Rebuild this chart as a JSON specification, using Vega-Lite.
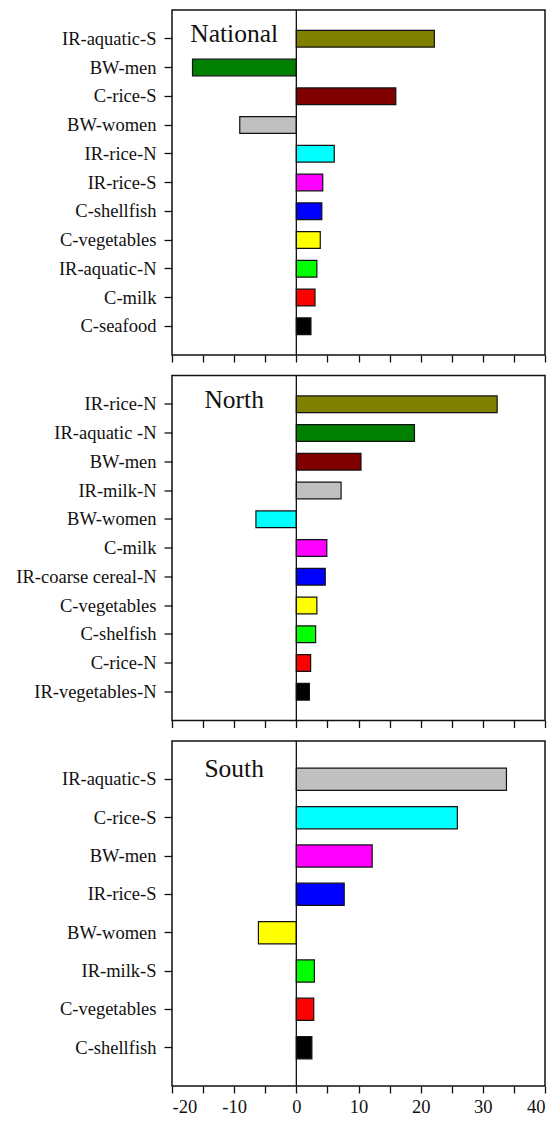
{
  "$schema": "https://vega.github.io/schema/vega-lite/v6.json",
  "padding": {"left": 0, "top": 8, "right": 0, "bottom": 0},
  "spacing": 9.5,
  "config": {
    "font": "Liberation Serif",
    "view": {"stroke": "#111", "strokeWidth": 1.5},
    "axis": {"domain": false, "grid": false, "tickColor": "#111", "tickWidth": 1.3, "labelColor": "#111", "labelFont": "Liberation Serif", "labelFontSize": 18.5, "title": null},
    "axisY": {"tickSize": 8, "labelPadding": 8, "minExtent": 171, "maxExtent": 171},
    "axisX": {"tickSize": 7, "labelPadding": 4, "values": [-20, -10, 0, 10, 20, 30, 40], "labelExpr": "'' + datum.value"},
    "bar": {"stroke": "#111", "strokeWidth": 1.2},
    "scale": {"bandPaddingInner": 0.42, "bandPaddingOuter": 0.71}
  },
  "datasets": {
    "national": [
      {"item": "IR-aquatic-S", "value": 22.2, "pos": 11},
      {"item": "BW-men", "value": -16.7, "pos": 10},
      {"item": "C-rice-S", "value": 16.0, "pos": 9},
      {"item": "BW-women", "value": -9.1, "pos": 8},
      {"item": "IR-rice-N", "value": 6.1, "pos": 7},
      {"item": "IR-rice-S", "value": 4.25, "pos": 6},
      {"item": "C-shellfish", "value": 4.1, "pos": 5},
      {"item": "C-vegetables", "value": 3.85, "pos": 4},
      {"item": "IR-aquatic-N", "value": 3.3, "pos": 3},
      {"item": "C-milk", "value": 3.0, "pos": 2},
      {"item": "C-seafood", "value": 2.35, "pos": 1}
    ],
    "north": [
      {"item": "IR-rice-N", "value": 32.3, "pos": 11},
      {"item": "IR-aquatic -N", "value": 19.0, "pos": 10},
      {"item": "BW-men", "value": 10.4, "pos": 9},
      {"item": "IR-milk-N", "value": 7.2, "pos": 8},
      {"item": "BW-women", "value": -6.5, "pos": 7},
      {"item": "C-milk", "value": 4.9, "pos": 6},
      {"item": "IR-coarse cereal-N", "value": 4.65, "pos": 5},
      {"item": "C-vegetables", "value": 3.3, "pos": 4},
      {"item": "C-shelfish", "value": 3.1, "pos": 3},
      {"item": "C-rice-N", "value": 2.3, "pos": 2},
      {"item": "IR-vegetables-N", "value": 2.1, "pos": 1}
    ],
    "south": [
      {"item": "IR-aquatic-S", "value": 33.8, "pos": 8},
      {"item": "C-rice-S", "value": 25.9, "pos": 7},
      {"item": "BW-men", "value": 12.2, "pos": 6},
      {"item": "IR-rice-S", "value": 7.7, "pos": 5},
      {"item": "BW-women", "value": -6.1, "pos": 4},
      {"item": "IR-milk-S", "value": 2.9, "pos": 3},
      {"item": "C-vegetables", "value": 2.8, "pos": 2},
      {"item": "C-shellfish", "value": 2.5, "pos": 1}
    ]
  },
  "vconcat": [
    {
      "width": 373, "height": 345,
      "layer": [
        {
          "data": {"name": "national"},
          "mark": "bar",
          "encoding": {
            "y": {"field": "item", "type": "nominal", "sort": ["IR-aquatic-S", "BW-men", "C-rice-S", "BW-women", "IR-rice-N", "IR-rice-S", "C-shellfish", "C-vegetables", "IR-aquatic-N", "C-milk", "C-seafood"]},
            "x": {"field": "value", "type": "quantitative", "scale": {"domain": [-20, 40], "nice": false}, "axis": {"labels": false, "minExtent": 7, "maxExtent": 7}},
            "color": {"field": "pos", "type": "ordinal", "scale": {"domain": [11, 10, 9, 8, 7, 6, 5, 4, 3, 2, 1], "range": ["#808000", "#008000", "#800000", "#C0C0C0", "#00FFFF", "#FF00FF", "#0000FF", "#FFFF00", "#00FF00", "#FF0000", "#000000"]}, "legend": null}
          }
        },
        {
          "data": {"values": [{}]},
          "mark": {"type": "rule", "color": "#111", "strokeWidth": 1.3},
          "encoding": {"x": {"datum": 0}}
        },
        {
          "data": {"values": [{"label": "National"}]},
          "mark": {"type": "text", "fontSize": 25.5, "align": "center", "baseline": "alphabetic", "dy": 3, "color": "#111"},
          "encoding": {"x": {"datum": -10}, "y": {"datum": "IR-aquatic-S"}, "text": {"field": "label"}}
        }
      ]
    },
    {
      "width": 373, "height": 345,
      "layer": [
        {
          "data": {"name": "north"},
          "mark": "bar",
          "encoding": {
            "y": {"field": "item", "type": "nominal", "sort": ["IR-rice-N", "IR-aquatic -N", "BW-men", "IR-milk-N", "BW-women", "C-milk", "IR-coarse cereal-N", "C-vegetables", "C-shelfish", "C-rice-N", "IR-vegetables-N"]},
            "x": {"field": "value", "type": "quantitative", "scale": {"domain": [-20, 40], "nice": false}, "axis": {"labels": false, "minExtent": 7, "maxExtent": 7}},
            "color": {"field": "pos", "type": "ordinal", "scale": {"domain": [11, 10, 9, 8, 7, 6, 5, 4, 3, 2, 1], "range": ["#808000", "#008000", "#800000", "#C0C0C0", "#00FFFF", "#FF00FF", "#0000FF", "#FFFF00", "#00FF00", "#FF0000", "#000000"]}, "legend": null}
          }
        },
        {
          "data": {"values": [{}]},
          "mark": {"type": "rule", "color": "#111", "strokeWidth": 1.3},
          "encoding": {"x": {"datum": 0}}
        },
        {
          "data": {"values": [{"label": "North"}]},
          "mark": {"type": "text", "fontSize": 25.5, "align": "center", "baseline": "alphabetic", "dy": 4, "color": "#111"},
          "encoding": {"x": {"datum": -10}, "y": {"datum": "IR-rice-N"}, "text": {"field": "label"}}
        }
      ]
    },
    {
      "width": 373, "height": 345,
      "layer": [
        {
          "data": {"name": "south"},
          "mark": "bar",
          "encoding": {
            "y": {"field": "item", "type": "nominal", "sort": ["IR-aquatic-S", "C-rice-S", "BW-men", "IR-rice-S", "BW-women", "IR-milk-S", "C-vegetables", "C-shellfish"]},
            "x": {"field": "value", "type": "quantitative", "scale": {"domain": [-20, 40], "nice": false}},
            "color": {"field": "pos", "type": "ordinal", "scale": {"domain": [8, 7, 6, 5, 4, 3, 2, 1], "range": ["#C0C0C0", "#00FFFF", "#FF00FF", "#0000FF", "#FFFF00", "#00FF00", "#FF0000", "#000000"]}, "legend": null}
          }
        },
        {
          "data": {"values": [{}]},
          "mark": {"type": "rule", "color": "#111", "strokeWidth": 1.3},
          "encoding": {"x": {"datum": 0}}
        },
        {
          "data": {"values": [{"label": "South"}]},
          "mark": {"type": "text", "fontSize": 25.5, "align": "center", "baseline": "alphabetic", "dy": -2, "color": "#111"},
          "encoding": {"x": {"datum": -10}, "y": {"datum": "IR-aquatic-S"}, "text": {"field": "label"}}
        }
      ]
    }
  ]
}
